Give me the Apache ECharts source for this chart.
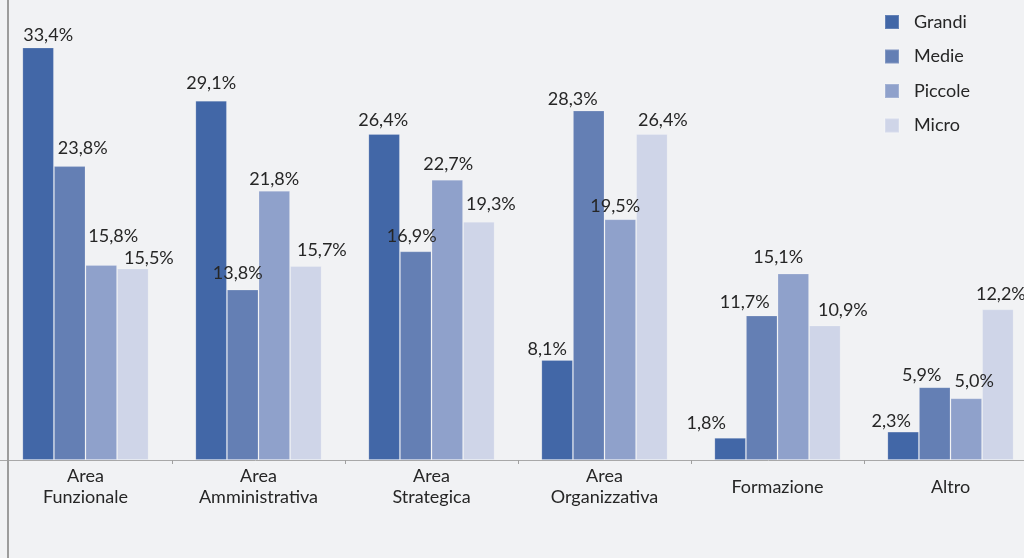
<!DOCTYPE html>
<html>
<head>
<meta charset="utf-8">
<script src="https://cdn.jsdelivr.net/npm/echarts@6/dist/echarts.min.js"></script>
<style>
  html, body { margin: 0; padding: 0; background: #f1f2f4; }
  #bar { width: 1024px; height: 558px; }
</style>
</head>
<body>
<div id="bar"></div>
<script>
var categories = ['Area\nFunzionale', 'Area\nAmministrativa', 'Area\nStrategica', 'Area\nOrganizzativa', 'Formazione', 'Altro'];
var seriesNames = ['Grandi', 'Medie', 'Piccole', 'Micro'];
var grandi  = [33.4, 29.1, 26.4,  8.1,  1.8,  2.3];
var medie   = [23.8, 13.8, 16.9, 28.3, 11.7,  5.9];
var piccole = [15.8, 21.8, 22.7, 19.5, 15.1,  5.0];
var micro   = [15.5, 15.7, 19.3, 26.4, 10.9, 12.2];

// label placement tweaks [dx, dy], the original labels are hand placed
var nudgeGrandi  = [[10, 2], [0, -3], [-1, 0], [-10, 3], [-24, -1], [-12, 4]];
var nudgeMedie   = [[13, -4], [-5, -2], [-4, -1], [-16, 3], [-17, 1], [-13, 2]];
var nudgePiccole = [[12, -15], [0, 2], [1, -1], [-5, 1], [-15, -2], [8, -3]];
var nudgeMicro   = [[16, 4], [16, -2], [12, -3], [11, 0], [18, -1], [3, -1]];

var colors = ['#4267a7', '#647fb4', '#8fa1cb', '#cfd5e8'];
var values = [grandi, medie, piccole, micro];
var nudges = [nudgeGrandi, nudgeMedie, nudgePiccole, nudgeMicro];

var myChart = echarts.init(document.getElementById('bar'));

var series = [];
for (var s = 0; s < values.length; s++) {
	var data = [];
	for (var i = 0; i < values[s].length; i++) {
		data.push({
			value: values[s][i],
			label: { offset: nudges[s][i] }
		});
	}
	series.push({
		name: seriesNames[s],
		type: 'bar',
		barGap: '0%',
		barCategoryGap: '27%',
		itemStyle: {
			color: colors[s],
			borderColor: 'rgba(255,255,255,0.18)',
			borderWidth: 1
		},
		label: {
			show: true,
			position: 'top',
			distance: 5,
			fontFamily: 'Lato',
			fontSize: 18,
			color: '#262626',
			formatter: function (p) {
				return p.value.toFixed(1).replace('.', ',') + '%';
			}
		},
		data: data
	});
}

option = {
	backgroundColor: '#f1f2f4',
	animation: false,
	textStyle: { fontFamily: 'Lato' },
	legend: {
		orient: 'vertical',
		left: 884,
		top: 13,
		padding: 0,
		itemWidth: 14,
		itemHeight: 14,
		itemGap: 16.5,
		icon: 'rect',
		textStyle: {
			fontFamily: 'Lato',
			fontSize: 18,
			color: '#262626',
			padding: [0, 0, 0, 10]
		},
		data: seriesNames
	},
	grid: {
		left: -1,
		width: 1038,
		top: 0,
		bottom: 98,
		containLabel: false,
		outerBoundsMode: 'none'
	},
	xAxis: {
		type: 'category',
		data: categories,
		axisLine: { lineStyle: { color: '#a8a8a8', width: 1 } },
		axisTick: { show: true, length: 4, lineStyle: { color: '#a0a0a0' } },
		axisLabel: {
			interval: 0,
			margin: 27,
			verticalAlign: 'middle',
			lineHeight: 21,
			fontFamily: 'Lato',
			fontSize: 18,
			color: '#262626'
		}
	},
	yAxis: {
		type: 'value',
		min: 0,
		max: 37.25,
		show: false,
		splitLine: { show: false }
	},
	graphic: [{
		type: 'line',
		shape: { x1: 8, y1: 0, x2: 8, y2: 558 },
		style: { stroke: '#9c9c9c', lineWidth: 2 },
		z: 100
	}],
	series: series
};
myChart.setOption(option);
</script>
</body>
</html>
